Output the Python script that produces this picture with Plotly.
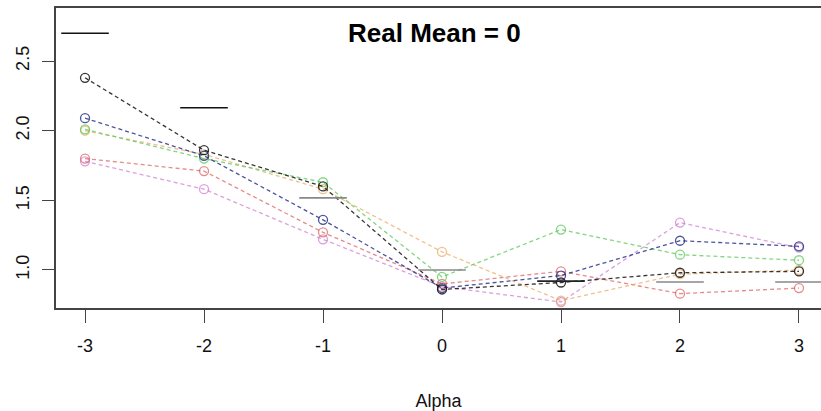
import plotly.graph_objects as go

alpha = [-3, -2, -1, 0, 1, 2, 3]
black = [2.38, 1.86, 1.60, 0.86, 0.91, 0.98, 0.99]
blue = [2.09, 1.82, 1.36, 0.87, 0.96, 1.21, 1.17]
green = [2.01, 1.80, 1.63, 0.95, 1.29, 1.11, 1.07]
red = [1.80, 1.71, 1.27, 0.90, 0.99, 0.83, 0.87]
pink = [1.78, 1.58, 1.22, 0.88, 0.77, 1.34, 1.16]
orange = [2.00, 1.83, 1.58, 1.13, 0.78, 0.97, 1.00]
true_vals = [2.70, 2.165, 1.518, 1.0, 0.92, 0.914, 0.914]
y_ticks = [1.0, 1.5, 2.0, 2.5]
y_tick_labels = ["1.0", "1.5", "2.0", "2.5"]

series = [
    (pink, "rgba(205,120,205,0.7)"),
    (red, "rgba(220,90,90,0.7)"),
    (orange, "rgba(235,165,90,0.7)"),
    (green, "rgba(90,200,90,0.75)"),
    (blue, "rgba(30,40,130,0.8)"),
    (black, "rgba(20,20,20,0.85)"),
]

FONT = "Liberation Sans Narrow, Liberation Sans, Arial, sans-serif"

fig = go.Figure()
for vals, col in series:
    fig.add_trace(go.Scatter(
        x=alpha, y=vals, mode="lines+markers",
        line=dict(color=col, width=1.3, dash="4px,3px"),
        marker=dict(symbol="circle-open", size=9, color=col, line=dict(width=1.3, color=col)),
        showlegend=False, hoverinfo="skip"))

half = 0.2
seg_colors = ["#111111", "#111111", "#888888", "#888888", "#222222", "#888888", "#888888"]
for a, t, c in zip(alpha, true_vals, seg_colors):
    fig.add_trace(go.Scatter(
        x=[a - half, a + half], y=[t, t], mode="lines",
        line=dict(color=c, width=1.6), showlegend=False, hoverinfo="skip"))

fig.add_annotation(text="<b>Real Mean = 0</b>", xref="paper", yref="paper",
                   x=0.495, y=0.917, xanchor="center", yanchor="middle", showarrow=False,
                   font=dict(family="Liberation Sans, Arial, sans-serif", size=26, color="black"))

fig.update_layout(
    width=821, height=411,
    margin=dict(l=56, r=0, t=8, b=103),
    paper_bgcolor="white", plot_bgcolor="white",
    font=dict(family=FONT, size=18, color="#111"),
    xaxis=dict(range=[-3.244, 3.185], tickmode="array", tickvals=alpha,
               ticktext=[str(a) for a in alpha], showgrid=False, zeroline=False,
               showline=True, mirror=True, linecolor="#444", linewidth=1.5,
               ticks="outside", ticklen=13, tickwidth=1.3, tickcolor="#444",
               ticklabelstandoff=8,
               title=dict(text="Alpha", standoff=41, font=dict(size=18))),
    yaxis=dict(range=[0.727, 2.881], tickmode="array", tickvals=y_ticks,
               ticktext=y_tick_labels, tickangle=-90, showgrid=False, zeroline=False,
               showline=True, linecolor="#444", linewidth=1.5,
               ticks="outside", ticklen=12, tickwidth=1.3, tickcolor="#444",
               ticklabelstandoff=6),
)

fig.write_html("out.html")
